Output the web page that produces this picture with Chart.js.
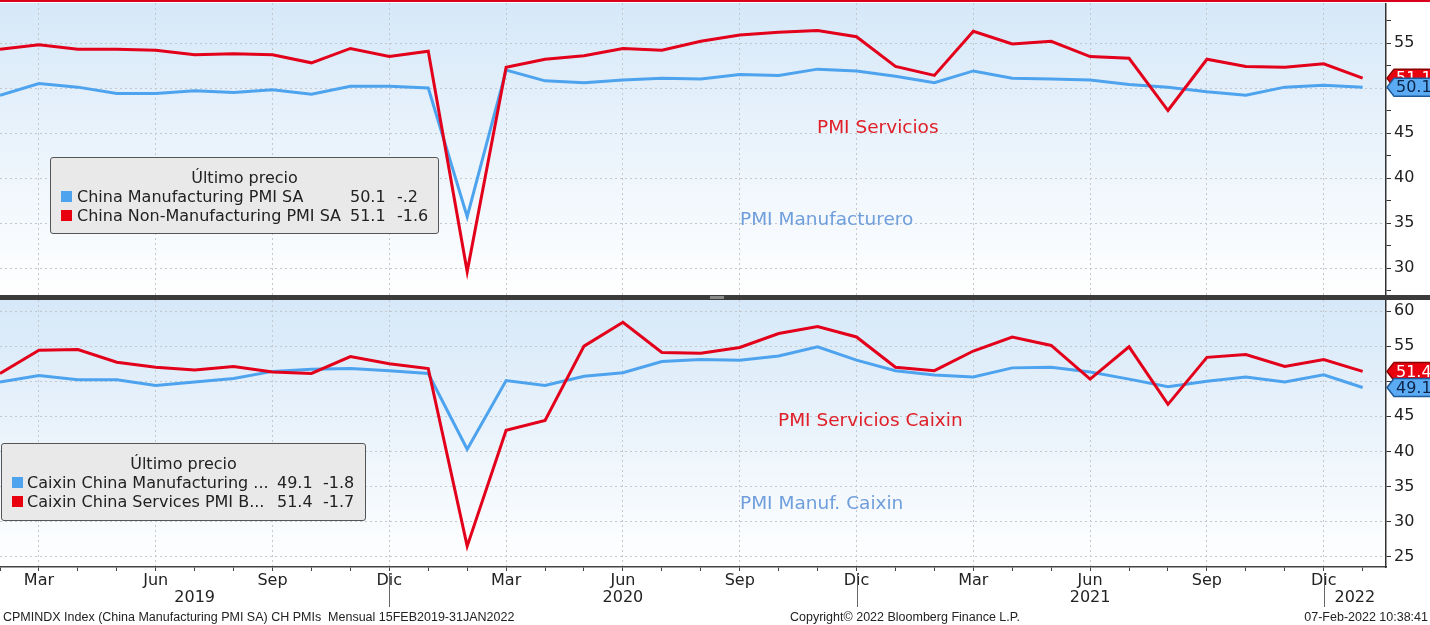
<!DOCTYPE html>
<html>
<head>
<meta charset="utf-8">
<script src="https://cdn.jsdelivr.net/npm/chart.js@4.4.0/dist/chart.umd.min.js"></script>
<style>
body { margin: 0; width: 1430px; height: 625px; background: #fff; position: relative; overflow: hidden; font-family: "DejaVu Sans"; color: #222; }
#linea { position: absolute; left: 0; top: 0; width: 1430px; height: 2px; background: #d8001a; }
#arriba { position: absolute; left: 0; top: 3px; }
#abajo { position: absolute; left: 0; top: 300px; }
#sep { position: absolute; left: 0; top: 295px; width: 1430px; height: 5px; background: #3b3b3b; }
#asa { position: absolute; left: 710px; top: 296px; width: 14px; height: 3px; background: #8a8a8a; }
.leyenda { position: absolute; background: rgba(232,232,232,0.96); border: 1px solid #555; border-radius: 3px; font-size: 16px; }
.leyenda span { position: absolute; white-space: nowrap; line-height: 19px; }
.leyenda .cuadro { width: 11px; height: 11px; }
.nota { position: absolute; font-size: 18.5px; white-space: nowrap; }
.pie { position: absolute; top: 610px; font-family: "Liberation Sans"; font-size: 12.5px; white-space: nowrap; color: #222; }
</style>
</head>
<body>
<div id="linea"></div>
<canvas id="arriba" width="1430" height="292"></canvas>
<div id="sep"></div><div id="asa"></div>
<canvas id="abajo" width="1430" height="325"></canvas>

<div class="leyenda" id="leyArriba" style="left:50px;top:157px;width:387px;height:75px;"></div>
<div class="leyenda" id="leyAbajo" style="left:1px;top:443px;width:363px;height:76px;"></div>

<div class="nota" style="left:817px;top:116px;color:#e02028;">PMI Servicios</div>
<div class="nota" style="left:740px;top:208px;color:#6f9edc;">PMI Manufacturero</div>
<div class="nota" style="left:778px;top:409px;color:#e02028;">PMI Servicios Caixin</div>
<div class="nota" style="left:740px;top:492px;color:#6f9edc;">PMI Manuf. Caixin</div>

<div class="pie" style="left:3px;">CPMINDX Index (China Manufacturing PMI SA) CH PMIs&nbsp; Mensual 15FEB2019-31JAN2022</div>
<div class="pie" style="left:790px;">Copyright© 2022 Bloomberg Finance L.P.</div>
<div class="pie" style="right:2px;">07-Feb-2022 10:38:41</div>

<script>
var meses = ['Ene', 'Feb', 'Mar', 'Abr', 'May', 'Jun', 'Jul', 'Ago', 'Sep', 'Oct', 'Nov', 'Dic'];
var fechas = ['2019-02', '2019-03', '2019-04', '2019-05', '2019-06', '2019-07', '2019-08', '2019-09', '2019-10', '2019-11', '2019-12',
    '2020-01', '2020-02', '2020-03', '2020-04', '2020-05', '2020-06', '2020-07', '2020-08', '2020-09', '2020-10', '2020-11', '2020-12',
    '2021-01', '2021-02', '2021-03', '2021-04', '2021-05', '2021-06', '2021-07', '2021-08', '2021-09', '2021-10', '2021-11', '2021-12',
    '2022-01'];

var oficialManuf = [49.2, 50.5, 50.1, 49.4, 49.4, 49.7, 49.5, 49.8, 49.3, 50.2, 50.2, 50.0, 35.7, 52.0, 50.8, 50.6, 50.9, 51.1,
    51.0, 51.5, 51.4, 52.1, 51.9, 51.3, 50.6, 51.9, 51.1, 51.0, 50.9, 50.4, 50.1, 49.6, 49.2, 50.1, 50.3, 50.1];
var oficialServ = [54.3, 54.8, 54.3, 54.3, 54.2, 53.7, 53.8, 53.7, 52.8, 54.4, 53.5, 54.1, 29.6, 52.3, 53.2, 53.6, 54.4, 54.2,
    55.2, 55.9, 56.2, 56.4, 55.7, 52.4, 51.4, 56.3, 54.9, 55.2, 53.5, 53.3, 47.5, 53.2, 52.4, 52.3, 52.7, 51.1];
var caixinManuf = [49.9, 50.8, 50.2, 50.2, 49.4, 49.9, 50.4, 51.4, 51.7, 51.8, 51.5, 51.1, 40.3, 50.1, 49.4, 50.7, 51.2, 52.8,
    53.1, 53.0, 53.6, 54.9, 53.0, 51.5, 50.9, 50.6, 51.9, 52.0, 51.3, 50.3, 49.2, 50.0, 50.6, 49.9, 50.9, 49.1];
var caixinServ = [51.1, 54.4, 54.5, 52.7, 52.0, 51.6, 52.1, 51.3, 51.1, 53.5, 52.5, 51.8, 26.5, 43.0, 44.4, 55.0, 58.4, 54.1,
    54.0, 54.8, 56.8, 57.8, 56.3, 52.0, 51.5, 54.3, 56.3, 55.1, 50.3, 54.9, 46.7, 53.4, 53.8, 52.1, 53.1, 51.4];

var nombresOficial = ['China Manufacturing PMI SA', 'China Non-Manufacturing PMI SA'];
var nombresCaixin = ['Caixin China Manufacturing ...', 'Caixin China Services PMI B...'];
var anios = ['2019', '2020', '2021', '2022'];
var posAnios = [5, 16, 28, 34.8];

var ROJO = '#e3001b';
var AZUL = '#4ea3ee';
var GRID = '#c3c8ce';

Chart.defaults.font.family = 'DejaVu Sans';

function mes(i) {
    return parseInt(fechas[i].slice(5), 10) - 1;
}
function trimestral(v) {
    return Number.isInteger(v) && fechas[v] !== undefined && (mes(v) + 1) % 3 === 0;
}
function corto(d) {
    return d.toFixed(1).replace(/^(-?)0\./, '$1.');
}

var fondo = {
    id: 'fondo',
    beforeDraw: function (chart) {
        var ctx = chart.ctx, a = chart.chartArea;
        var g = ctx.createLinearGradient(0, a.top, 0, a.bottom);
        g.addColorStop(0, '#d6e8f8');
        g.addColorStop(1, '#ffffff');
        ctx.save();
        ctx.fillStyle = g;
        ctx.fillRect(a.left, a.top, a.right - a.left, a.bottom - a.top);
        ctx.restore();
    }
};

function etiquetas(items) {
    return {
        id: 'etiquetas',
        afterDraw: function (chart) {
            var ctx = chart.ctx, a = chart.chartArea, y = chart.scales.y;
            items.forEach(function (it) {
                var py = y.getPixelForValue(it.valor);
                var x0 = a.right + 1;
                ctx.save();
                ctx.beginPath();
                ctx.moveTo(x0, py);
                ctx.lineTo(x0 + 7, py - 9);
                ctx.lineTo(chart.width + 3, py - 9);
                ctx.lineTo(chart.width + 3, py + 9);
                ctx.lineTo(x0 + 7, py + 9);
                ctx.closePath();
                ctx.fillStyle = it.fondo;
                ctx.fill();
                ctx.strokeStyle = it.borde;
                ctx.lineWidth = 1.5;
                ctx.stroke();
                ctx.fillStyle = it.texto;
                ctx.font = '16px "DejaVu Sans"';
                ctx.textBaseline = 'middle';
                ctx.fillText(it.valor.toFixed(1), x0 + 9, py + 1);
                ctx.restore();
            });
        }
    };
}

var ejeAnios = {
    id: 'ejeAnios',
    afterDraw: function (chart) {
        var ctx = chart.ctx, a = chart.chartArea, x = chart.scales.x;
        ctx.save();
        ctx.font = '16px "DejaVu Sans"';
        ctx.fillStyle = '#222';
        ctx.textAlign = 'center';
        ctx.textBaseline = 'middle';
        anios.forEach(function (t, k) {
            ctx.fillText(t, x.getPixelForValue(posAnios[k]), a.bottom + 31);
        });
        ctx.strokeStyle = '#666';
        ctx.lineWidth = 1;
        fechas.forEach(function (f, i) {
            if (mes(i) === 11) {
                var px = Math.round(x.getPixelForValue(i)) + 0.5;
                ctx.beginPath();
                ctx.moveTo(px, a.bottom + 6);
                ctx.lineTo(px, a.bottom + 40);
                ctx.stroke();
            }
        });
        ctx.restore();
    }
};

function crearPanel(id, series, colores, yMin, yMax, conEjeX, extras) {
    var ctx = document.getElementById(id).getContext('2d');
    return new Chart(ctx, {
        type: 'line',
        data: {
            datasets: series.map(function (s, k) {
                return {
                    data: s.map(function (v, i) { return {x: i, y: v}; }),
                    borderColor: colores[k],
                    borderWidth: 3,
                    pointRadius: 0,
                    tension: 0,
                    fill: false
                };
            })
        },
        options: {
            responsive: false,
            animation: false,
            events: [],
            layout: {padding: 0},
            plugins: {
                legend: {display: false},
                tooltip: {enabled: false}
            },
            scales: {
                x: {
                    type: 'linear',
                    min: 0,
                    max: 35.6,
                    ticks: {
                        display: conEjeX,
                        stepSize: 1,
                        maxTicksLimit: 100,
                        autoSkip: false,
                        maxRotation: 0,
                        includeBounds: false,
                        padding: 0,
                        color: '#222',
                        font: {size: 16},
                        callback: function (v) { return trimestral(v) ? meses[mes(v)] : ''; }
                    },
                    grid: {
                        color: function (c) { return c.tick && trimestral(c.tick.value) ? GRID : 'rgba(0,0,0,0)'; },
                        drawTicks: conEjeX,
                        tickLength: 4,
                        tickColor: '#444',
                        lineWidth: 1
                    },
                    border: {display: conEjeX, color: '#444', width: 1.5, dash: [2, 3]},
                    afterFit: function (s) {
                        s.height = conEjeX ? 58 : 0;
                        s.paddingLeft = 0;
                        s.paddingRight = 0;
                    }
                },
                y: {
                    position: 'right',
                    min: yMin,
                    max: yMax,
                    ticks: {
                        stepSize: 2.5,
                        includeBounds: false,
                        padding: 3,
                        color: '#222',
                        font: {size: 16},
                        callback: function (v) { return v % 5 === 0 ? v : ''; }
                    },
                    grid: {
                        color: function (c) { return c.tick && c.tick.value % 5 === 0 ? GRID : 'rgba(0,0,0,0)'; },
                        tickLength: 5,
                        tickColor: '#333',
                        lineWidth: 1
                    },
                    border: {color: '#333', width: 1.5, dash: [2, 3]},
                    afterFit: function (s) {
                        s.width = 44;
                        s.paddingTop = 0;
                        s.paddingBottom = 0;
                    }
                }
            }
        },
        plugins: [fondo].concat(extras)
    });
}

function ultimo(s) { return s[s.length - 1]; }
function cambio(s) { return s[s.length - 1] - s[s.length - 2]; }

crearPanel('arriba', [oficialServ, oficialManuf], [ROJO, AZUL], 27, 59.45, false, [
    etiquetas([
        {valor: ultimo(oficialServ), fondo: '#e8000f', borde: '#8a0000', texto: '#ffffff'},
        {valor: ultimo(oficialManuf), fondo: '#5aabf4', borde: '#1f5a98', texto: '#0c2447'}
    ])
]);

crearPanel('abajo', [caixinServ, caixinManuf], [ROJO, AZUL], 23.53, 61.57, true, [
    ejeAnios,
    etiquetas([
        {valor: ultimo(caixinServ), fondo: '#e8000f', borde: '#8a0000', texto: '#ffffff'},
        {valor: ultimo(caixinManuf), fondo: '#5aabf4', borde: '#1f5a98', texto: '#0c2447'}
    ])
]);

function llenarLeyenda(id, nombres, series, colCuadro, colTexto, colValor, colCambio) {
    var caja = document.getElementById(id);
    var html = '<span style="left:0;width:100%;text-align:center;top:10px;">Último precio</span>';
    var colores = [AZUL, '#e8000f'];
    nombres.forEach(function (n, k) {
        var top = 29 + k * 19;
        html += '<span class="cuadro" style="left:' + colCuadro + 'px;top:' + (top + 4) + 'px;background:' + colores[k] + ';"></span>';
        html += '<span style="left:' + colTexto + 'px;top:' + top + 'px;">' + n + '</span>';
        html += '<span style="left:' + colValor + 'px;top:' + top + 'px;">' + ultimo(series[k]).toFixed(1) + '</span>';
        html += '<span style="left:' + colCambio + 'px;top:' + top + 'px;">' + corto(cambio(series[k])) + '</span>';
    });
    caja.innerHTML = html;
}

llenarLeyenda('leyArriba', nombresOficial, [oficialManuf, oficialServ], 10, 26, 299, 346);
llenarLeyenda('leyAbajo', nombresCaixin, [caixinManuf, caixinServ], 10, 25, 275, 321);
</script>
</body>
</html>
